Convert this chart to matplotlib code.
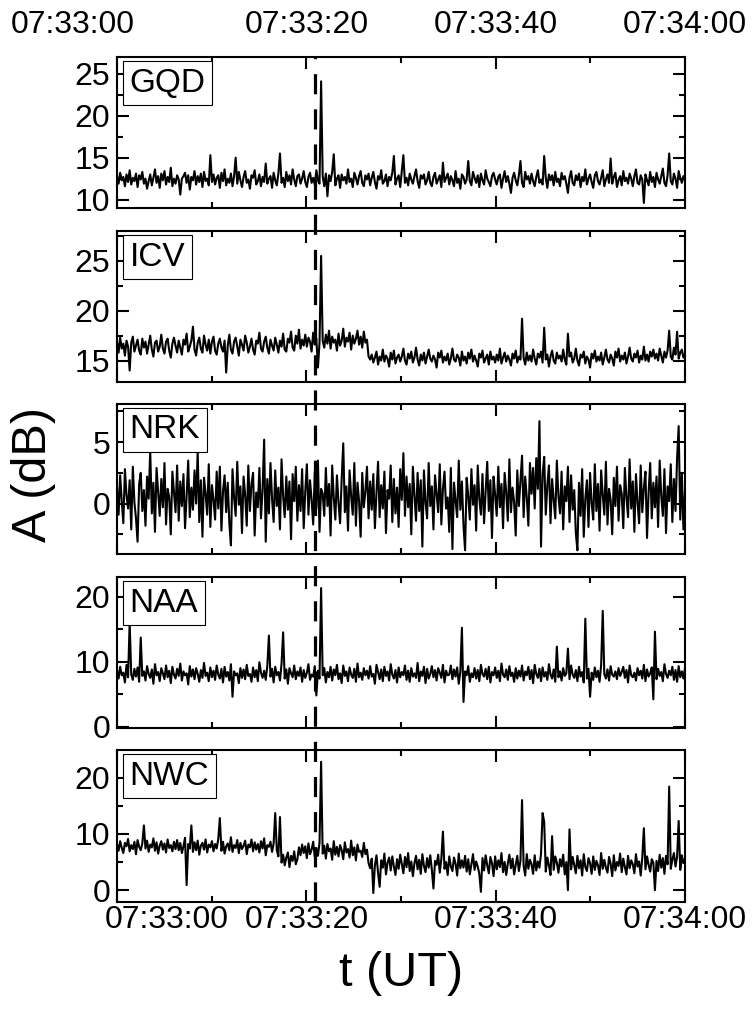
import numpy as np
import matplotlib
matplotlib.use('Agg')
import matplotlib.pyplot as plt
import matplotlib.transforms as mtransforms
from matplotlib.ticker import MultipleLocator

plt.rcParams['font.family'] = ['Liberation Sans', 'DejaVu Sans']

# stations and time axis (seconds after 07:33:00)
stations = ['GQD', 'ICV', 'NRK', 'NAA', 'NWC']
tick_seconds = [0, 20, 40, 60]
tick_labels = ['07:33:00', '07:33:20', '07:33:40', '07:34:00']
event_second = 20.95

# amplitude (dB), 6 samples per second
gqd = [12.8, 11.9, 13.2, 12.3, 12.7, 11.6, 13.0, 12.1, 13.5, 11.8, 12.6, 12.2, 13.1, 11.5, 12.9, 12.4, 13.3, 11.9, 12.5, 11.3,
       12.2, 13.0, 11.7, 12.6, 13.6, 12.0, 12.8, 11.4, 13.1, 12.3, 13.4, 11.8, 12.7, 12.1, 13.8, 11.6, 12.5, 11.9, 12.9, 12.4,
       10.6, 12.5, 12.8, 13.2, 12.0, 12.9, 11.2, 12.7, 12.3, 13.4, 11.8, 12.8, 12.1, 13.1, 11.5, 13.3, 12.2, 12.5, 11.7, 15.3,
       12.1, 13.0, 11.8, 12.6, 12.9, 11.4, 13.2, 12.2, 13.6, 11.7, 12.5, 12.0, 13.1, 11.6, 12.8, 15.0, 11.9, 13.3, 12.3, 11.5,
       12.7, 13.4, 12.0, 12.4, 11.3, 12.9, 12.6, 13.5, 11.8, 12.2, 13.0, 11.6, 12.7, 12.1, 14.3, 11.9, 12.5, 12.8, 11.4, 13.2,
       12.3, 11.7, 13.1, 15.5, 12.0, 12.6, 11.5, 13.3, 12.2, 12.9, 11.8, 13.6, 12.4, 11.6, 12.8, 13.0, 11.9, 12.5, 13.4, 12.1,
       11.5, 12.7, 13.2, 12.0, 12.6, 11.8, 13.5, 12.3, 11.9, 24.1, 12.8, 11.6, 13.1, 10.4, 12.9, 12.2, 13.3, 15.4, 11.7, 12.5,
       12.9, 11.4, 13.0, 12.3, 12.7, 11.9, 13.6, 12.1, 12.5, 11.5, 13.2, 12.6, 11.8, 12.8, 13.4, 12.0, 11.6, 12.9, 12.4, 13.1,
       11.7, 12.6, 13.3, 12.1, 11.3, 12.8, 12.4, 13.5, 11.9, 12.2, 13.0, 11.6, 12.7, 12.3, 13.2, 15.2, 11.8, 12.5, 12.9, 11.5,
       13.4, 15.3, 12.0, 12.6, 11.7, 13.1, 12.4, 11.9, 12.8, 13.6, 12.2, 11.4, 12.9, 12.5, 13.0, 11.8, 12.3, 13.3, 12.0, 11.6,
       12.7, 13.2, 11.9, 12.4, 12.9, 11.5, 14.4, 12.1, 12.6, 13.1, 11.8, 12.8, 12.3, 11.6, 13.4, 12.0, 12.5, 11.3, 13.0, 12.7,
       11.9, 12.4, 14.6, 12.2, 11.7, 13.3, 12.6, 12.0, 12.9, 11.5, 13.1, 12.3, 11.8, 13.5, 12.5, 12.1, 11.6, 12.8, 13.2, 12.4,
       11.8, 12.7, 13.0, 11.4, 12.5, 13.4, 12.1, 12.8, 11.9, 10.8, 12.6, 13.2, 12.3, 11.7, 12.9, 14.6, 12.0, 11.5, 13.3, 12.4,
       12.8, 11.9, 13.1, 12.2, 11.6, 12.7, 13.5, 12.0, 12.4, 11.8, 15.2, 12.6, 11.4, 13.0, 12.3, 12.9, 11.7, 13.3, 12.1, 12.5,
       11.6, 13.2, 12.4, 12.8, 11.9, 10.8, 12.6, 13.4, 12.0, 11.7, 12.9, 12.3, 13.1, 11.5, 12.7, 12.2, 13.6, 11.8, 12.5, 13.0,
       12.1, 11.4, 12.9, 13.3, 12.2, 11.8, 12.6, 13.5, 11.6, 12.4, 13.0, 12.0, 14.9, 11.9, 12.7, 13.2, 11.5, 12.3, 12.8, 11.7,
       13.4, 12.2, 12.6, 11.9, 13.1, 12.5, 11.6, 12.8, 13.6, 12.0, 11.8, 12.9, 12.4, 9.6, 13.0, 12.3, 11.7, 13.3, 12.1, 12.7,
       11.5, 13.2, 12.4, 11.9, 12.8, 13.7, 12.0, 11.6, 12.9, 15.5, 12.2, 11.8, 13.1, 12.5, 11.4, 13.4, 12.6, 12.0, 12.8, 12.3]

icv = [16.9, 15.8, 17.3, 16.2, 16.7, 15.5, 17.0, 16.4, 14.0, 16.8, 17.4, 15.9, 16.5, 17.1, 16.0, 15.6, 17.2, 16.3, 16.9, 15.7,
       16.6, 17.5, 16.1, 15.4, 16.8, 17.0, 15.9, 16.4, 17.6, 16.2, 15.7, 16.9, 17.2, 16.0, 15.3, 16.7, 17.3, 16.5, 15.8, 17.0,
       16.3, 15.6, 17.1, 16.6, 17.7, 15.9, 16.4, 17.0, 18.4, 16.1, 15.5, 16.8, 17.3, 16.2, 15.8, 17.5, 16.6, 16.0, 17.1, 15.7,
       16.9, 17.4, 16.0, 15.6, 16.7, 17.2, 16.3, 15.9, 17.0, 13.8, 16.5, 17.6, 16.1, 15.7, 16.9, 17.3, 16.4, 15.5, 17.1, 16.6,
       16.0, 17.5, 16.8, 15.8, 16.4, 17.2, 16.1, 15.6, 17.0, 16.7, 17.8, 16.2, 15.9, 16.9, 17.4, 16.3, 15.7, 17.1, 16.5, 16.0,
       17.3, 16.6, 15.8, 17.0, 16.4, 17.7, 16.1, 15.9, 17.2, 16.8, 17.9, 16.3, 16.0, 17.5, 16.7, 18.1, 16.2, 17.1, 16.5, 17.6,
       16.4, 17.3, 16.9, 15.9, 17.8, 16.6, 17.2, 14.3, 16.8, 25.5, 17.0, 16.3, 17.6, 16.7, 18.0, 16.2, 17.4, 16.8, 17.1, 16.0,
       17.7, 16.5, 17.0, 18.2, 16.4, 17.3, 16.9, 17.8, 16.1, 17.5, 16.7, 17.2, 18.0, 16.6, 17.4, 16.3, 17.9, 16.8, 17.1, 15.4,
       15.1, 15.6, 14.8, 15.3, 15.9, 14.6, 15.4, 15.0, 16.1, 14.9, 15.5, 15.2, 14.4, 15.8, 15.1, 16.0, 14.7, 15.3, 15.6, 14.9,
       15.4, 16.2, 15.0, 14.6, 15.7, 15.2, 15.9, 14.8, 15.3, 16.3, 15.1, 14.5, 15.6, 15.0, 15.8, 14.7, 15.4, 16.1, 15.2, 14.9,
       15.5, 15.1, 14.3, 15.8, 15.3, 16.0, 14.8, 15.4, 15.0, 15.7, 14.6, 15.2, 16.2, 15.1, 14.9, 15.6, 15.3, 14.5, 15.9, 15.0,
       15.4, 14.7, 15.8, 15.2, 16.1, 14.9, 15.5, 15.0, 14.4, 15.7, 15.3, 16.0, 14.8, 15.2, 15.6, 14.6, 15.9, 15.1, 15.4, 14.8,
       15.6, 15.0, 16.2, 14.7, 15.3, 15.8, 14.9, 15.5, 15.1, 14.5, 15.7, 15.2, 16.0, 14.8, 15.4, 15.1, 19.2, 15.3, 14.6, 15.8,
       15.0, 15.5, 14.9, 16.1, 15.2, 14.6, 15.7, 15.3, 15.9, 14.8, 18.3, 15.1, 15.6, 14.4, 15.4, 16.0, 15.0, 14.7, 15.8, 15.2,
       15.5, 14.9, 16.1, 15.1, 14.6, 17.7, 15.4, 15.8, 14.8, 15.2, 16.2, 15.0, 14.5, 15.6, 15.3, 15.9, 14.7, 15.4, 15.1, 14.3,
       15.7, 15.2, 16.0, 14.9, 15.4, 15.0, 15.8, 14.6, 15.3, 16.1, 15.1, 14.8, 15.6, 15.2, 14.5, 15.9, 15.3, 16.2, 14.9, 15.5,
       15.1, 15.8, 14.7, 15.4, 16.3, 15.2, 14.9, 15.7, 15.3, 16.0, 14.8, 15.5, 15.1, 16.4, 15.0, 15.6, 14.9, 15.9, 15.4, 16.1,
       15.2, 15.7, 15.0, 16.2, 15.5, 14.8, 15.9, 15.3, 16.0, 18.0, 15.4, 15.1, 16.3, 15.6, 17.9, 15.2, 15.8, 16.1, 15.3, 15.7]

nrk = [1.4, -0.9, 2.3, 0.2, -1.6, 2.8, 0.7, -0.4, 1.9, -2.1, 3.0, 0.1, -1.2, -3.1, 1.6, 2.5, -0.6, 1.1, -1.8, 2.2,
       0.4, 4.3, -0.8, 1.7, -2.3, 2.9, 0.9, -1.0, 2.0, -0.3, 3.3, -1.7, 1.2, 0.5, -2.5, 2.6, 1.0, -0.7, 3.1, -1.4,
       1.8, -0.2, 2.4, -2.0, 0.6, 3.5, -1.1, 1.3, -0.5, 2.7, 0.0, 4.3, -1.5, 1.9, -2.7, 2.1, 0.8, -0.9, 3.2, -1.9,
       1.5, 0.3, -1.3, 2.6, -0.4, 3.0, -2.2, 1.0, 2.3, -0.7, 1.7, -1.6, -3.4, 2.8, 0.5, -1.0, 3.4, -0.1, 1.4, -2.4,
       2.2, 0.7, -1.8, 3.1, -0.6, 1.6, 2.5, -2.6, 0.9, -0.3, 2.9, -1.2, 1.1, 5.2, -3.1, 2.0, -0.8, 3.3, 0.4, -1.5,
       2.7, -0.2, 1.3, -2.1, 3.6, 0.6, -1.1, 2.2, -0.5, 1.8, -2.9, 2.4, 0.2, 3.0, -1.4, 1.5, -0.6, 2.8, -2.0, 1.0,
       3.2, -0.9, 1.9, 0.3, -1.7, 2.6, -0.4, 3.5, -2.3, 1.2, 0.8, -1.0, 2.9, -0.2, 1.6, -2.6, 3.1, 0.5, -1.3, 2.3,
       0.1, -1.6, 2.0, 4.9, -0.7, 1.4, -2.2, 2.7, 0.6, -0.9, 3.3, -1.8, 1.7, 0.2, -2.7, 2.5, -0.3, 1.0, 3.0, -1.2,
       1.8, -0.5, 2.4, -2.0, 0.9, 3.4, -1.1, 1.5, -0.4, 2.6, -2.4, 1.1, 0.4, 3.1, -1.5, 2.0, -0.8, 1.3, -1.9, 2.8,
       0.3, 4.1, -1.0, 2.2, -0.3, 1.6, -2.5, 3.0, 0.7, -1.4, 2.5, -0.6, 1.9, -3.5, 2.7, 0.1, -1.2, 3.3, -0.2, 1.4,
       -2.1, 2.3, 0.8, -0.7, 3.2, -1.7, 1.2, 2.6, -0.4, 0.5, -2.3, 2.9, -3.7, 1.7, 0.2, -1.1, 3.5, -0.5, 1.8, -1.8,
       -3.8, 2.1, 0.6, -1.3, 2.8, -0.1, 1.5, -2.2, 3.1, 0.4, -0.9, 2.4, -1.6, 1.0, 3.4, -0.6, 1.9, -2.8, 2.2, 0.7,
       -1.0, 3.0, -0.3, 1.6, -2.0, 2.5, 0.9, -1.4, 3.6, -0.7, 1.3, 0.1, -2.6, 2.7, -0.2, 1.8, 3.9, -1.1, 2.2, 0.5,
       -1.8, 3.3, 0.8, 2.9, -0.4, 3.7, 1.2, 6.7, -3.5, 2.4, 3.8, -0.9, 1.5, 3.1, -1.6, 2.0, 0.3, -1.2, 3.5, 0.6,
       -0.8, 2.6, -2.1, 1.4, 0.2, 3.0, -1.5, 2.3, -0.5, 1.1, -2.4, -3.8, 1.7, -1.0, 2.8, -2.7, 0.4, 1.9, -1.9, 2.5,
       0.0, -1.3, 3.2, -0.6, 1.6, -2.2, 2.7, 0.7, -0.9, 3.4, -1.7, 1.2, 0.3, -2.5, 2.1, -0.2, 3.0, -1.4, 1.5, 0.8,
       -2.0, 2.9, 0.5, -1.1, 3.6, -0.4, 1.8, -2.3, 2.4, 0.1, -1.6, 3.1, -0.7, 1.3, 2.6, -2.8, 0.9, 3.3, -1.2, 1.7,
       -0.3, 2.2, -1.9, 3.5, 0.6, -1.0, 2.8, -2.4, 1.4, 0.2, 3.2, -1.5, 2.0, -0.6, 3.7, 6.3, -1.3, 2.5, -2.1, 1.1]

naa = [8.7, 7.4, 9.2, 7.9, 8.3, 6.8, 9.5, 7.6, 16.0, 8.0, 7.2, 8.9, 7.7, 9.1, 6.9, 13.7, 7.8, 8.5, 7.1, 9.3,
       8.1, 7.5, 8.8, 6.6, 9.6, 7.9, 8.4, 7.0, 9.0, 8.2, 7.3, 9.4, 7.6, 8.6, 6.7, 9.2, 8.0, 7.4, 8.9, 7.8,
       9.7, 7.1, 8.5, 7.9, 8.2, 6.5, 9.3, 7.7, 8.8, 7.3, 9.0, 8.1, 6.9, 8.7, 7.5, 9.8, 7.8, 8.3, 7.0, 9.1,
       7.6, 8.6, 7.2, 9.4, 8.0, 7.4, 8.9, 6.8, 9.2, 7.7, 8.4, 7.1, 9.6, 4.6, 8.5, 7.9, 8.2, 6.7, 9.0, 7.5,
       8.8, 7.3, 9.5, 7.8, 8.1, 6.9, 9.1, 7.6, 8.7, 7.0, 9.9, 8.3, 7.5, 8.6, 7.2, 9.3, 14.0, 7.7, 8.9, 6.8,
       9.2, 7.9, 8.4, 7.1, 9.7, 14.5, 7.4, 8.8, 6.6, 9.0, 8.2, 7.6, 9.4, 7.3, 8.5, 7.8, 9.1, 6.9, 8.7, 7.5,
       8.3, 9.6, 7.2, 8.0, 7.7, 9.3, 4.8, 8.6, 7.4, 21.3, 7.9, 9.0, 6.8, 8.4, 7.6, 9.2, 7.1, 8.8, 7.9, 9.5,
       7.3, 8.2, 6.7, 9.4, 7.8, 8.5, 7.0, 9.1, 8.0, 7.5, 8.9, 6.9, 9.7, 7.6, 8.3, 7.2, 9.0, 7.9, 8.6, 7.4,
       9.3, 7.7, 8.1, 6.6, 9.5, 8.4, 7.3, 8.8, 7.0, 9.2, 7.8, 8.5, 7.1, 9.6, 8.0, 7.4, 8.7, 6.8, 9.1, 7.6,
       8.4, 7.9, 9.4, 7.2, 8.6, 6.9, 9.0, 7.7, 8.2, 7.5, 9.8, 7.0, 8.5, 7.8, 9.2, 6.7, 8.9, 7.4, 8.1, 9.3,
       7.6, 8.7, 7.1, 9.0, 8.3, 7.5, 9.5, 6.8, 8.6, 7.9, 8.0, 9.4, 7.3, 8.8, 7.7, 9.1, 6.6, 8.4, 15.2, 3.8,
       8.5, 7.9, 9.3, 6.9, 8.2, 7.6, 9.0, 7.4, 8.7, 7.0, 9.5, 8.1, 7.7, 8.9, 7.3, 9.2, 6.8, 8.4, 7.9, 9.1,
       7.5, 8.6, 7.0, 9.7, 8.0, 7.6, 8.8, 7.2, 9.3, 7.8, 8.3, 6.9, 9.0, 7.4, 8.6, 7.7, 9.4, 7.1, 8.5, 7.9,
       9.2, 7.3, 8.7, 6.7, 9.5, 8.1, 7.5, 8.9, 7.0, 9.1, 7.7, 8.4, 7.2, 9.6, 8.0, 7.4, 8.8, 6.9, 12.3, 7.6,
       8.5, 7.1, 9.0, 7.8, 8.2, 12.0, 7.3, 9.4, 8.0, 7.5, 8.7, 7.0, 9.2, 7.7, 8.4, 6.8, 16.6, 7.4, 8.9, 4.6,
       8.3, 7.2, 9.1, 7.6, 8.6, 6.9, 9.5, 17.8, 8.1, 7.4, 8.8, 7.1, 9.3, 8.0, 7.7, 8.5, 7.3, 9.0, 7.8, 8.4,
       9.2, 7.5, 8.7, 6.8, 9.4, 7.9, 7.6, 8.3, 7.1, 9.0, 7.9, 8.6, 7.4, 9.5, 7.0, 8.8, 7.7, 8.2, 9.1, 4.2,
       14.6, 7.3, 8.9, 7.8, 8.4, 7.0, 9.6, 8.1, 7.5, 8.6, 7.9, 9.2, 7.2, 8.7, 6.9, 9.3, 7.6, 8.5, 7.4, 9.0]

nwc = [8.2, 7.0, 8.7, 7.5, 6.6, 8.4, 7.8, 9.1, 6.9, 8.0, 7.3, 8.6, 6.4, 8.9, 7.7, 7.1, 8.3, 11.5, 7.4, 8.8,
       6.8, 8.1, 7.6, 9.2, 7.0, 8.5, 6.5, 7.9, 8.7, 7.2, 8.3, 6.7, 9.0, 7.5, 8.0, 6.9, 8.6, 7.3, 8.9, 7.1,
       8.4, 6.6, 7.8, 9.3, 0.9, 8.2, 7.4, 11.5, 6.8, 8.5, 7.1, 8.8, 6.3, 7.9, 8.4, 7.2, 9.0, 6.7, 8.1, 7.6,
       8.7, 6.9, 8.2, 7.4, 9.1, 12.8, 7.0, 8.6, 6.5, 7.8, 8.3, 7.1, 9.4, 6.8, 8.0, 7.5, 8.9, 6.6, 8.4, 7.3,
       7.9, 8.8, 6.4, 8.1, 7.6, 9.0, 6.9, 8.5, 7.2, 8.2, 6.7, 8.7, 7.4, 9.2, 6.2, 8.0, 7.7, 8.6, 6.8, 8.3,
       13.7, 7.1, 6.0, 13.0, 4.9, 6.3, 4.4, 5.8, 6.7, 4.1, 6.1, 5.2, 6.9, 4.6, 5.5, 7.6, 6.2, 8.1, 6.6, 7.8,
       5.7, 8.3, 6.4, 7.2, 8.6, 5.9, 7.5, 6.1, 8.4, 22.8, 6.5, 7.9, 5.6, 8.2, 6.9, 7.4, 5.4, 8.7, 6.3, 7.7,
       6.0, 8.0, 7.1, 5.5, 8.5, 6.7, 7.3, 5.8, 8.8, 6.2, 7.6, 5.3, 8.1, 6.8, 7.0, 5.9, 8.4, 6.4, 7.2, 4.8,
       3.9, 5.6, -0.5, 4.4, 6.2, 3.1, 0.6, 5.3, 4.0, 6.5, 2.8, 4.9, 5.8, 3.5, 6.0, 4.2, 2.7, 5.5, 3.8, 6.3,
       4.6, 3.0, 5.9, 4.1, 6.6, 3.4, 5.1, 2.5, 4.8, 6.1, 3.7, 5.4, 2.9, 6.4, 4.3, 3.2, 5.7, 4.0, 6.2, 3.6,
       0.3, 5.2, 4.5, 6.3, 3.1, 5.6, 10.4, 3.8, 5.0, 2.7, 6.0, 4.2, 3.4, 5.8, 4.7, 2.6, 6.5, 3.9, 5.3, 4.0,
       6.1, 3.3, 5.5, 2.8, 4.6, 6.4, 3.6, 5.1, 4.2, 2.9, -0.3, 5.7, 3.5, 6.2, 4.4, 3.0, 5.9, 4.8, 2.5, 6.0,
       3.7, 5.3, 4.1, 6.6, 3.2, 5.0, 2.7, 4.7, 6.3, 3.9, 5.6, 2.8, 4.5, 6.1, 3.4, 5.2, 16.0, 4.3, 2.6, 6.4,
       3.8, 5.4, 4.6, 2.9, 6.2, 3.5, 5.1, 4.0, 6.5, 13.7, 12.1, 3.3, 5.8, 4.4, 2.7, 9.6, 3.6, 6.0, 4.9, 3.1,
       5.5, 4.2, 6.3, 2.8, 5.0, 0.0, 10.8, 3.7, 5.9, 4.5, 3.0, 6.1, 3.9, 5.3, 2.6, 6.4, 4.1, 3.4, 5.7, 4.8,
       2.9, 6.0, 3.6, 5.2, 4.4, 2.7, 6.6, 3.8, 5.4, 4.0, 3.1, 5.9, 4.7, 2.5, 6.2, 3.5, 5.0, 4.3, 6.5, 3.2,
       5.6, 4.1, 2.8, 6.1, 3.9, 5.3, 4.6, 3.0, 6.4, 4.2, 5.1, 2.6, 5.8, 11.0, 3.7, 6.0, 4.5, 3.3, 5.5, 4.9,
       0.0, 5.2, 3.4, 6.3, 4.0, 5.7, 2.9, 6.1, 4.6, 18.4, 3.8, 5.4, 6.6, 4.2, 5.9, 12.3, 3.6, 6.2, 4.8, 5.6]

series = [gqd, icv, nrk, naa, nwc]

# axis ranges and tick steps per panel
ylims = [(9, 27), (12.85, 28), (-4.1, 8.1), (-0.2, 23), (-2.1, 24.9)]
ysteps = [5, 5, 5, 10, 10]

fig = plt.figure(figsize=(7.52, 10.15), dpi=100)

# panel top / bottom in pixels
tops = [57, 231, 404, 577, 750]
bots = [208, 382, 554, 728, 902]
left = 117 / 752
width = 568 / 752

for i in range(5):
    ax = fig.add_axes([left, 1 - bots[i] / 1015, width, (bots[i] - tops[i]) / 1015])
    vals = series[i]
    t = np.linspace(0, 60, len(vals))
    ax.plot(t, vals, color='black', lw=1.5)
    ax.set_xlim(0, 60)
    ax.set_ylim(*ylims[i])
    ax.set_xticks(tick_seconds, tick_labels)
    ax.xaxis.set_minor_locator(MultipleLocator(10))
    ax.yaxis.set_major_locator(MultipleLocator(ysteps[i]))
    ax.yaxis.set_minor_locator(MultipleLocator(ysteps[i] / 2))
    ax.tick_params(which='both', direction='in', top=True, right=True, width=1.5,
                   labelsize=23, labelbottom=(i == 4), labeltop=(i == 0))
    ax.tick_params(which='major', length=8.5)
    ax.tick_params(which='minor', length=4.3)
    ax.tick_params(axis='y', pad=5)
    ax.tick_params(axis='x', pad=12 if i == 0 else 2)
    for sp in ax.spines.values():
        sp.set_linewidth(1.5)
    # first time label: nudged left on top, right at the bottom
    first = ax.xaxis.get_major_ticks()[0]
    if i == 0:
        first.label2.set_transform(first.label2.get_transform() +
                                   mtransforms.ScaledTranslation(-0.44, 0, fig.dpi_scale_trans))
    if i == 4:
        first.label1.set_transform(first.label1.get_transform() +
                                   mtransforms.ScaledTranslation(0.5, 0, fig.dpi_scale_trans))
    ax.text(0.022, 0.93, stations[i], transform=ax.transAxes, fontsize=24,
            ha='left', va='top', zorder=5,
            bbox=dict(boxstyle='square,pad=0.2', fc='white', ec='black', lw=0.8))

# dashed event line across all panels
ov = fig.add_axes([left, 1 - bots[4] / 1015, width, (bots[4] - tops[0]) / 1015])
ov.set_xlim(0, 60)
ov.set_ylim(0, 1)
ov.axis('off')
ov.patch.set_visible(False)
ov.axvline(event_second, color='black', lw=2.3, dashes=(6.3, 4.7))

fig.text(33 / 752, 1 - 475 / 1015, 'A (dB)', rotation=90, ha='center', va='center', fontsize=35)
fig.text(401 / 752, 1 - 973 / 1015, 't (UT)', ha='center', va='center', fontsize=35)

fig.savefig('out.png', dpi=100)
